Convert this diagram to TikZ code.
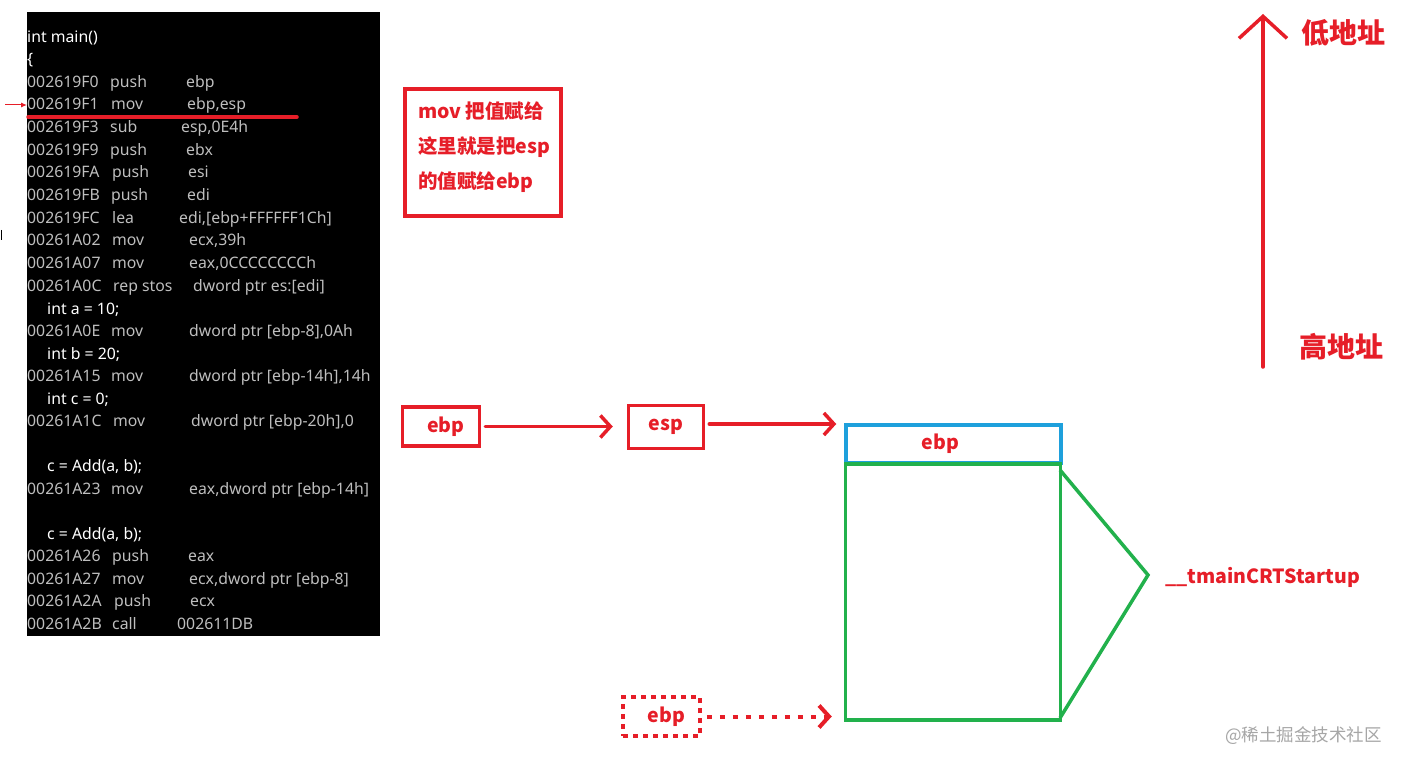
\documentclass[tikz,border=0pt]{standalone}
\usepackage{fontspec}
\setmainfont{Noto Sans CJK SC}
\newfontfamily\codefont{Noto Sans}
\usetikzlibrary{arrows.meta}
\definecolor{rd}{RGB}{230,30,40}
\definecolor{bl}{RGB}{30,160,220}
\definecolor{gn}{RGB}{34,177,76}
\definecolor{asmgray}{RGB}{190,190,190}
\newcommand\asmline[7]{%
  \node[asm] (#2a) at (27,#1+6) {#3};
  \node[asm] (#2b) at (#5,#1+6) {#4};
  \node[asm] (#2c) at (#7,#1+6) {#6};}
\newcommand\srcline[4]{\node[src] (#2) at (#3,#1+6) {#4};}
\begin{document}
\begin{tikzpicture}[x=1pt,y=-1pt,
  asm/.style={anchor=base west,inner sep=0pt,text=asmgray,font=\codefont\fontsize{15.8}{15}\selectfont},
  src/.style={anchor=base west,inner sep=0pt,text=white,font=\codefont\fontsize{15.8}{15}\selectfont},
  redlbl/.style={text=rd,font=\bfseries\fontsize{19.5}{19}\selectfont},
  regbox/.style={draw=rd,line width=3.5pt,text=rd,font=\bfseries\fontsize{19.5}{19}\selectfont,inner sep=0pt},
  chev/.style={-{Straight Barb[length=10pt,width=22pt]},line width=3.5pt,draw=rd,line cap=round}]
\useasboundingbox (0,0) rectangle (1407,767);
\fill[white] (0,0) rectangle (1407,767);
% code panel
\fill[black] (27,12) rectangle (380,636);
\srcline{37}{s1}{27}{int main()}
\srcline{59}{s2}{27}{\{}
\asmline{82}{l3}{002619F0}{push}{110}{ebp}{186}
\asmline{104}{l4}{002619F1}{mov}{111}{ebp,esp}{187}
\asmline{127}{l5}{002619F3}{sub}{110}{esp,0E4h}{181}
\asmline{150}{l6}{002619F9}{push}{110}{ebx}{186}
\asmline{172}{l7}{002619FA}{push}{112}{esi}{188}
\asmline{195}{l8}{002619FB}{push}{111}{edi}{187}
\asmline{218}{l9}{002619FC}{lea}{112}{edi,[ebp+FFFFFF1Ch]}{179}
\asmline{240}{l10}{00261A02}{mov}{112}{ecx,39h}{189}
\asmline{263}{l11}{00261A07}{mov}{112}{eax,0CCCCCCCCh}{189}
\asmline{285}{l12}{00261A0C}{rep stos}{113}{dword ptr es:[edi]}{193}
\srcline{308}{s13}{47}{int a = 10;}
\asmline{330}{l14}{00261A0E}{mov}{111}{dword ptr [ebp-8],0Ah}{189}
\srcline{353}{s15}{47}{int b = 20;}
\asmline{375}{l16}{00261A15}{mov}{111}{dword ptr [ebp-14h],14h}{189}
\srcline{398}{s17}{47}{int c = 0;}
\asmline{420}{l18}{00261A1C}{mov}{113}{dword ptr [ebp-20h],0}{191}
\srcline{465}{s19}{47}{c = Add(a, b);}
\asmline{488}{l20}{00261A23}{mov}{111}{eax,dword ptr [ebp-14h]}{189}
\srcline{533}{s21}{47}{c = Add(a, b);}
\asmline{555}{l22}{00261A26}{push}{112}{eax}{188}
\asmline{578}{l23}{00261A27}{mov}{112}{ecx,dword ptr [ebp-8]}{189}
\asmline{600}{l24}{00261A2A}{push}{114}{ecx}{190}
\asmline{623}{l25}{00261A2B}{call}{112}{002611DB}{177}
% underline and pointer
\coordinate (u1) at (28,117);
\coordinate (u2) at (297,117);
\draw[rd,line width=3.5pt,line cap=round] (u1) -- (u2);
\coordinate (p1) at (5,105);
\coordinate (p2) at (27,105);
\draw[rd,line width=1pt,-{Latex[length=6pt,width=5pt]}] (p1) -- (p2);
\coordinate (k1) at (1,230);
\coordinate (k2) at (1,240);
\draw[black,line width=1pt] (k1) -- (k2);
% comment box
\node[draw=rd,line width=4pt,minimum width=156pt,minimum height=127pt,inner sep=0pt] (note) at (482.5,153) {};
\node[redlbl,anchor=base west,inner sep=0pt] (n1) at (418,119) {mov 把值赋给};
\node[redlbl,anchor=base west,inner sep=0pt] (n2) at (418,154) {这里就是把esp};
\node[redlbl,anchor=base west,inner sep=0pt] (n3) at (418,189) {的值赋给ebp};
% registers
\node[regbox,minimum width=77pt,minimum height=39pt] (ebp) at (441,426.5) {\hspace*{10pt}ebp};
\node[regbox,minimum width=75pt,minimum height=43pt] (esp) at (666,427) {esp};
\node[draw=bl,line width=3.5pt,minimum width=215pt,minimum height=38pt,inner sep=0pt,text=rd,font=\bfseries\fontsize{19.5}{19}\selectfont] (top) at (953.5,444) {ebp\hspace*{26pt}};
\node[draw=gn,line width=3.5pt,minimum width=215pt,minimum height=256pt,inner sep=0pt] (frame) at (953,592) {};
\draw[chev] ([xshift=4pt]ebp.east) -- ([xshift=-14pt]esp.west |- ebp.east);
\draw[chev] ([xshift=4pt,yshift=3pt]esp.east) -- ([xshift=-8pt,yshift=3pt]top.west |- esp.east);
% dashed ebp
\node[regbox,dash pattern=on 5pt off 5pt,minimum width=77pt,minimum height=39pt] (ebp2) at (661.5,716.5) {\hspace*{10pt}ebp};
\draw[chev,dash pattern=on 5pt off 8pt,line width=4pt,line cap=butt] ([xshift=5pt]ebp2.east) -- ([xshift=-12pt]frame.west |- ebp2.east);
% triangle brace
\coordinate (t1) at (1060,470);
\coordinate (t2) at (1148,575);
\coordinate (t3) at (1060,718);
\draw[gn,line width=3.5pt,line join=miter] (t1) -- (t2) -- (t3);
\node[redlbl,anchor=west,inner sep=0pt] (crt) at (1165,577) {\_\_tmainCRTStartup};
% address direction
\coordinate (a1) at (1263,367);
\coordinate (a2) at (1263,14);
\draw[chev,-{Straight Barb[length=22pt,width=48pt]}] (a1) -- (a2);
\node[text=rd,font=\bfseries\fontsize{28}{28}\selectfont,anchor=west,inner sep=0pt] (low) at (1301,33) {低地址};
\node[text=rd,font=\bfseries\fontsize{28}{28}\selectfont,anchor=west,inner sep=0pt] (high) at (1299,347) {高地址};
% watermark
\node[text=gray!70,font=\fontsize{17.5}{17.5}\selectfont,anchor=west,inner sep=0pt] (wm) at (1225,736) {@稀土掘金技术社区};
\end{tikzpicture}
\end{document}
